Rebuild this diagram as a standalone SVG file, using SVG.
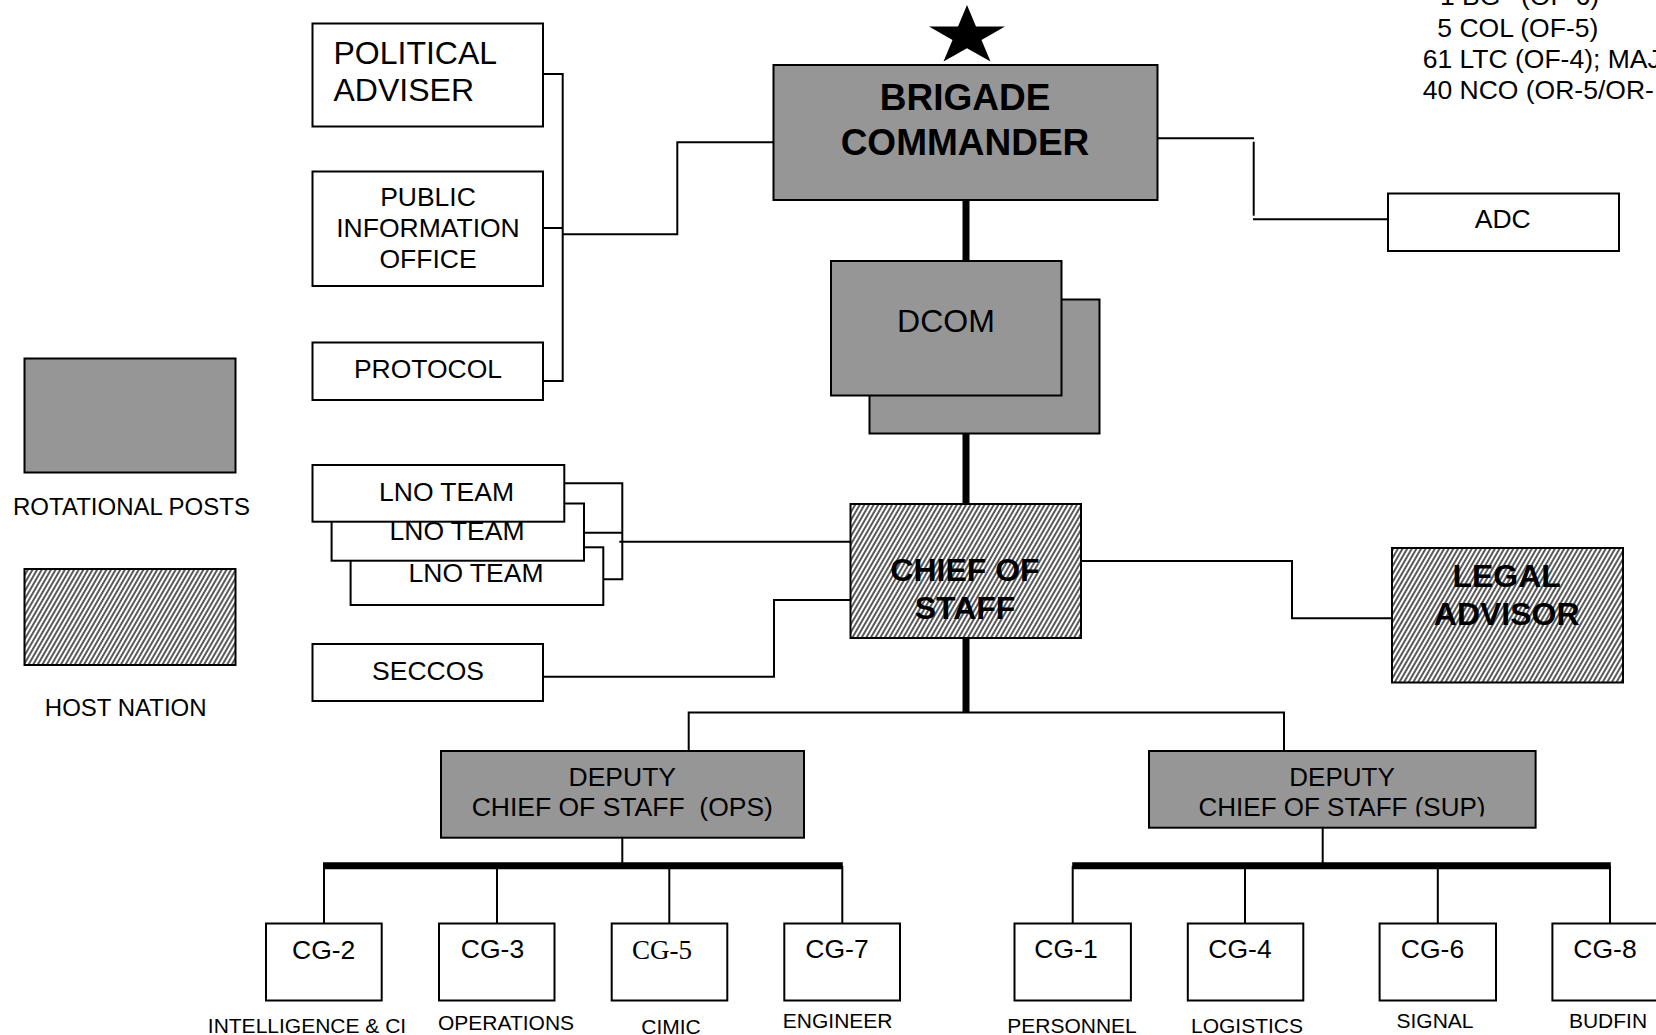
<svg xmlns="http://www.w3.org/2000/svg" width="1656" height="1035" viewBox="0 0 1656 1035">
<defs>
<style>
.box{fill:#fff;stroke:#000;stroke-width:2}
.gray{fill:#969696}
.hatch{fill:url(#hatch)}
.t{font-family:"Liberation Sans",Arial,sans-serif;font-size:26.5px;fill:#000}
.c{text-anchor:middle}
.b{font-weight:bold}
.big{font-size:32px}
.lbl{font-size:21px}
.leg{font-size:24px}
.serif{font-family:"Liberation Serif","Times New Roman",serif;font-size:27px}
.ln{stroke:#000;stroke-width:2;fill:none}
.thick{stroke:#000;stroke-width:7;fill:none}
</style>
<pattern id="hatch" patternUnits="userSpaceOnUse" width="4" height="4" patternTransform="rotate(30)">
<rect width="4" height="4" fill="#fff"/>
<line x1="1" y1="-1" x2="1" y2="5" stroke="#000" stroke-width="1.3"/>
</pattern>
<clipPath id="supclip"><rect x="1149" y="751" width="387" height="65.5"/></clipPath>
</defs>
<rect width="1656" height="1035" fill="#fff"/>

<g id="connectors">
<path class="ln" d="M543 74H562.7V381H543"/>
<path class="ln" d="M543 228H562.7"/>
<path class="ln" d="M562.7 234.3H677.3V142.3H773"/>
<path class="ln" d="M1157.7 138.3H1254"/>
<path class="ln" d="M1253.7 141.7V215.7"/>
<path class="ln" d="M1253 219.3H1388"/>
<path class="ln" d="M564.3 483.3H622.3V579.3H600"/>
<path class="ln" d="M584 532.7H622.3"/>
<path class="ln" d="M619.3 541.7H850"/>
<path class="ln" d="M542.8 676.7H774V600H850"/>
<path class="ln" d="M1081 561H1292V618.3H1392"/>
<path class="ln" d="M688.7 751V712.5H1284V751"/>
<path class="ln" d="M622.3 837.7V866"/>
<path class="ln" d="M1322.7 827.7V866"/>
<path class="ln" d="M324 866V923.5M497 866V923.5M669.3 866V923.5M842.3 866V923.5M1072.7 866V923.5M1245 866V923.5M1437.8 866V923.5M1610 866V923.5"/>
<path class="thick" d="M966 200V261M966 433V504M966 638V712.5"/>
<path class="thick" d="M323 865.8H842.8M1072.2 865.8H1610.8"/>
</g>

<g id="strength">
<text class="t"><tspan x="1440" y="5">1 BG</tspan><tspan x="1521" y="5">(OF-6)</tspan></text>
<text class="t" x="1437.3" y="36.7">5 COL (OF-5)</text>
<text class="t" x="1422.7" y="68.3">61 LTC (OF-4); MAJ</text>
<text class="t" x="1422.7" y="99.3">40 NCO (OR-5/OR-</text>
</g>

<g id="political-adviser">
<rect class="box" x="312.5" y="23.5" width="230.5" height="103"/>
<text class="t big" x="333.5" y="64">POLITICAL</text>
<text class="t big" x="333.5" y="101">ADVISER</text>
</g>
<g id="public-information-office">
<rect class="box" x="312.5" y="171.5" width="230.5" height="114.5"/>
<text class="t c" x="428" y="206">PUBLIC</text>
<text class="t c" x="428" y="237">INFORMATION</text>
<text class="t c" x="428" y="268">OFFICE</text>
</g>
<g id="protocol">
<rect class="box" x="312.5" y="342.5" width="230.5" height="57.5"/>
<text class="t c" x="428" y="377.7">PROTOCOL</text>
</g>

<g id="brigade-commander">
<polygon fill="#000" points="967,5 976,26.6 1005,26.6 981.5,40 990.5,61.6 967,48.3 943.5,61.6 952.5,40 929,26.6 958,26.6"/>
<rect class="box gray" x="773.5" y="65" width="384" height="135"/>
<text class="t c b" style="font-size:37px" x="965" y="110">BRIGADE</text>
<text class="t c b" style="font-size:37px" x="965" y="155">COMMANDER</text>
</g>

<g id="dcom">
<rect class="box gray" x="869.5" y="299.5" width="230" height="134"/>
<rect class="box gray" x="831" y="261" width="230.5" height="134.5"/>
<text class="t c big" x="946" y="331.7">DCOM</text>
</g>

<g id="adc">
<rect class="box" x="1388" y="193.5" width="231" height="57.5"/>
<text class="t c" x="1502.7" y="228.3">ADC</text>
</g>

<g id="legend-rotational">
<rect class="box gray" x="24.5" y="358.5" width="211" height="114"/>
<text class="t c leg" x="131.5" y="515">ROTATIONAL POSTS</text>
</g>
<g id="legend-host-nation">
<rect class="box hatch" x="24.5" y="569" width="211" height="96"/>
<text class="t c leg" x="125.7" y="716">HOST NATION</text>
</g>

<g id="lno-team-3">
<rect class="box" x="350.6" y="547.3" width="252.7" height="57.7"/>
<text class="t c" x="476" y="582">LNO TEAM</text>
</g>
<g id="lno-team-2">
<rect class="box" x="331.6" y="503.5" width="252.4" height="57.2"/>
<text class="t c" x="457" y="539.5">LNO TEAM</text>
</g>
<g id="lno-team-1">
<rect class="box" x="312.5" y="465" width="251.8" height="56.7"/>
<text class="t c" x="446.5" y="501">LNO TEAM</text>
</g>

<g id="seccos">
<rect class="box" x="312.5" y="644" width="230.5" height="57"/>
<text class="t c" x="428" y="680">SECCOS</text>
</g>

<g id="chief-of-staff">
<rect class="box hatch" x="850.5" y="504" width="230.5" height="134"/>
<text class="t c b big" x="965" y="581">CHIEF OF</text>
<text class="t c b big" x="965" y="619">STAFF</text>
</g>

<g id="legal-advisor">
<rect class="box hatch" x="1392" y="548" width="231" height="134.5"/>
<text class="t c b big" x="1506.7" y="587">LEGAL</text>
<text class="t c b big" x="1506.7" y="625">ADVISOR</text>
</g>

<g id="dcos-ops">
<rect class="box gray" x="441" y="751" width="363" height="86.7"/>
<text class="t c" x="622.3" y="786">DEPUTY</text>
<text class="t c" x="622.3" y="816" xml:space="preserve">CHIEF OF STAFF  (OPS)</text>
</g>

<g id="dcos-sup">
<rect class="box gray" x="1149" y="751" width="386.6" height="76.7"/>
<g clip-path="url(#supclip)">
<text class="t c" style="font-size:26px" x="1342" y="786">DEPUTY</text>
<text class="t c" style="font-size:26px" x="1342" y="816">CHIEF OF STAFF (SUP)</text>
</g>
</g>

<g id="cg-2">
<rect class="box" x="266" y="923.5" width="115.7" height="77"/>
<text class="t c" x="323.7" y="959">CG-2</text>
<text class="t c lbl" x="307" y="1033">INTELLIGENCE &amp; CI</text>
</g>
<g id="cg-3">
<rect class="box" x="439" y="923.5" width="115.5" height="77"/>
<text class="t c" x="492.5" y="957.5">CG-3</text>
<text class="t c lbl" x="506" y="1030">OPERATIONS</text>
</g>
<g id="cg-5">
<rect class="box" x="611.7" y="923.5" width="115.6" height="77"/>
<text class="serif c" x="662" y="959">CG-5</text>
<text class="t c lbl" x="671" y="1034">CIMIC</text>
</g>
<g id="cg-7">
<rect class="box" x="784.3" y="923.5" width="115.7" height="77"/>
<text class="t c" x="837" y="957.5">CG-7</text>
<text class="t c lbl" x="837.7" y="1028">ENGINEER</text>
</g>
<g id="cg-1">
<rect class="box" x="1014.5" y="923.5" width="116.4" height="77"/>
<text class="t c" x="1066" y="957.5">CG-1</text>
<text class="t c lbl" x="1072" y="1033">PERSONNEL</text>
</g>
<g id="cg-4">
<rect class="box" x="1187.8" y="923.5" width="115.5" height="77"/>
<text class="t c" x="1240" y="957.5">CG-4</text>
<text class="t c lbl" x="1247" y="1033">LOGISTICS</text>
</g>
<g id="cg-6">
<rect class="box" x="1379.6" y="923.5" width="116.4" height="77"/>
<text class="t c" x="1432.5" y="957.5">CG-6</text>
<text class="t c lbl" x="1435" y="1028">SIGNAL</text>
</g>
<g id="cg-8">
<rect class="box" x="1552.4" y="923.5" width="115.6" height="77"/>
<text class="t c" x="1605" y="957.5">CG-8</text>
<text class="t c lbl" x="1608" y="1028">BUDFIN</text>
</g>
</svg>
